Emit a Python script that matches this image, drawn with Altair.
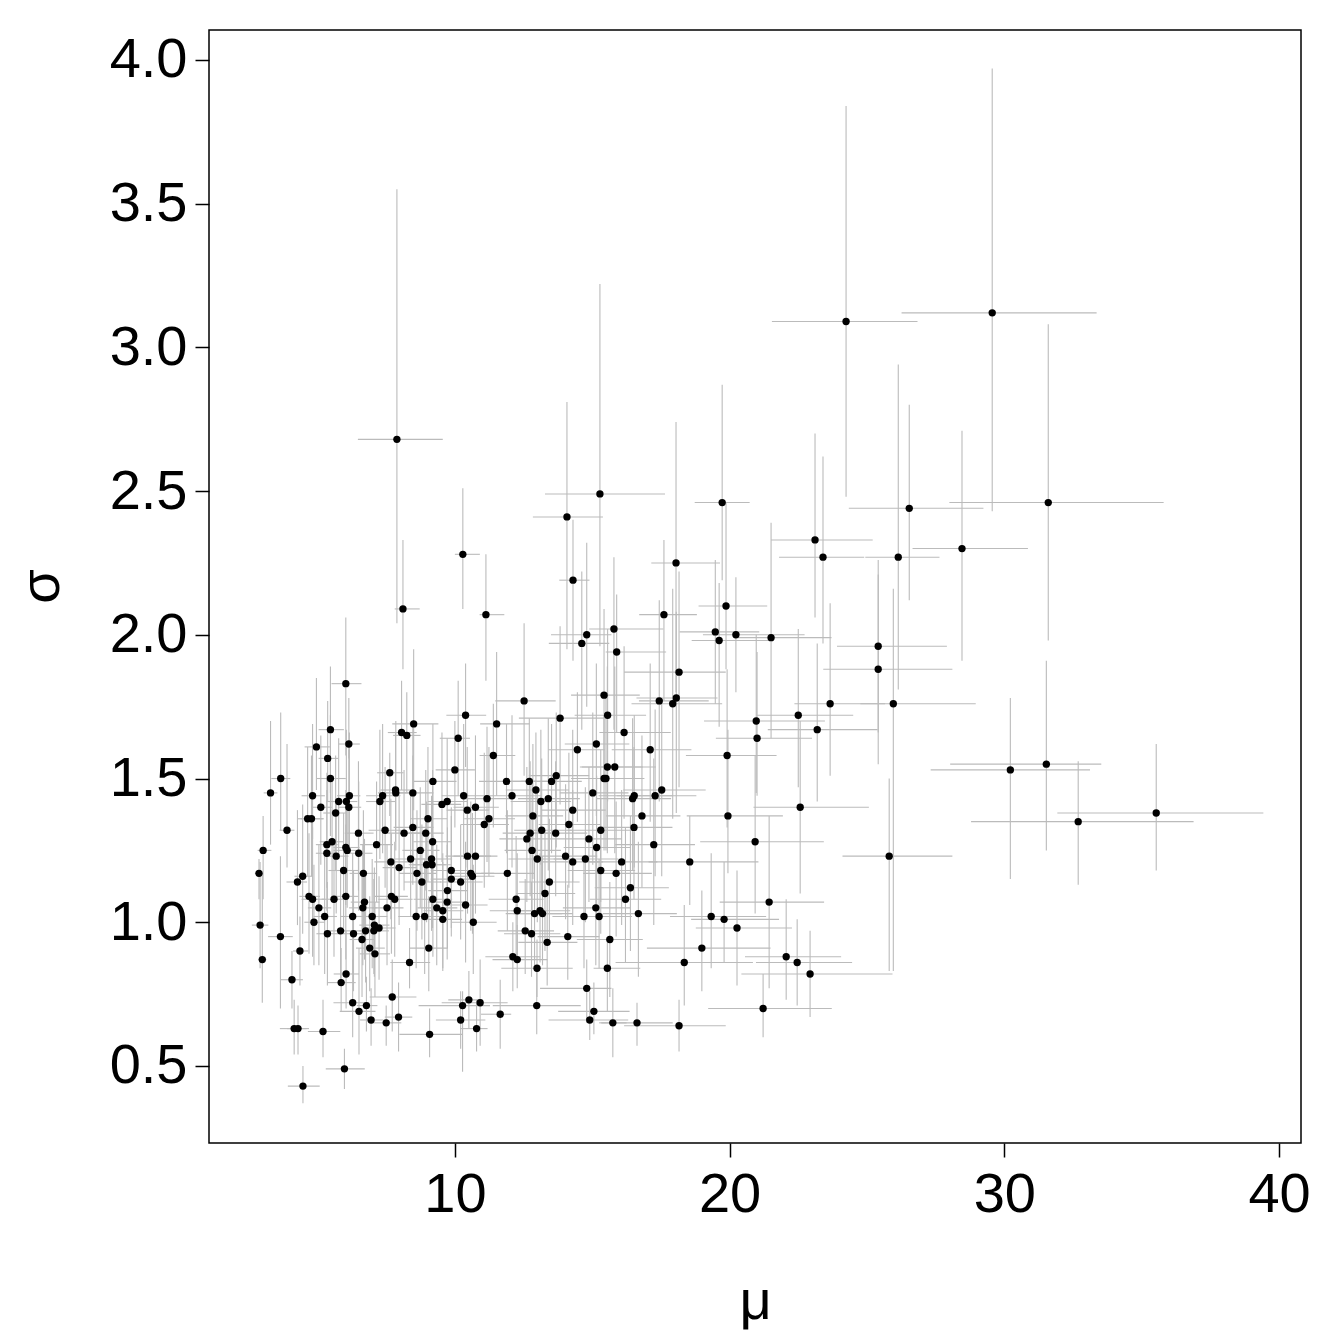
import altair as alt
import pandas as pd

# posterior means
mu = [
    7.89, 8.11, 10.29, 11.13, 14.08, 15.28, 14.30, 14.62, 14.80, 15.79,
    15.89, 17.61, 18.05, 19.73, 19.48, 19.62, 19.87, 20.23, 21.51, 23.11,
    23.40, 24.24, 26.54, 26.14, 28.46, 29.56, 31.60, 25.41, 25.41, 25.96,
    23.66, 23.19, 20.97, 21.00, 19.91, 22.50, 22.57, 19.94, 20.93, 21.44,
    30.22, 31.53, 32.69, 35.53, 25.81, 18.55, 19.33, 19.80, 20.27, 18.99,
    18.35, 22.06, 22.46, 22.93, 21.22, 18.16, 16.63, 15.75, 15.55,
    6.03, 5.47, 6.14, 4.96, 5.37, 3.66, 5.47,
    10.39, 8.50, 8.06, 8.25, 10.12, 10.00, 7.63, 9.20, 7.84,
    12.52, 15.43, 13.83, 11.52, 15.15, 14.46, 11.40, 13.69, 11.88, 12.71, 13.52, 12.95, 15.43,
    18.16, 18.06, 17.44, 17.93, 15.56, 16.16, 17.11, 15.55, 15.82, 15.50, 17.53,
    3.29, 4.82, 6.16, 5.12, 5.77, 6.05, 6.14, 5.66, 4.64, 4.78, 3.89, 6.49,
    3.02, 5.34, 5.53, 6.03, 6.08, 5.34, 5.68, 6.50, 5.95, 6.67, 2.87, 4.46,
    4.27, 4.69, 4.82, 5.60, 6.03, 5.05, 6.65, 5.26, 6.28, 4.87, 2.91, 5.36, 5.84, 6.31, 6.62, 3.65, 4.36, 2.99,
    4.07, 6.04, 5.86, 6.28, 6.51, 4.15, 4.29, 5.20, 5.98, 4.47,
    8.35, 7.72, 6.78, 6.95, 7.50, 7.95, 9.08, 10.51, 10.28, 10.92, 10.21, 10.79,
    12.27, 12.99, 14.80, 12.98, 11.65, 15.06, 14.91, 12.11,
    7.37, 7.27, 7.85, 8.47, 9.53, 9.72, 10.32, 10.45, 10.75, 9.02, 7.46, 8.15, 8.47, 8.94, 11.07,
    7.15, 9.19, 8.74, 7.67, 8.39, 9.15, 8.97, 9.17, 10.46, 10.75, 7.97, 8.62, 9.87, 10.58, 10.64,
    8.80, 9.87, 10.21, 9.73, 7.69, 7.81, 9.20, 9.72, 6.71, 7.53, 9.34, 9.56, 10.39,
    6.99, 8.59, 8.90, 9.56, 10.67, 7.07, 7.24, 7.05, 6.75, 6.90, 7.09, 9.05,
    11.17, 12.08, 13.13, 13.40, 15.02, 11.24, 12.84, 14.29, 14.15, 13.16, 13.67, 12.74, 12.62, 15.31, 14.88, 15.16,
    12.81, 13.00, 14.03, 14.29, 14.75, 15.31, 11.91, 13.44, 13.28, 12.23, 12.27, 13.10, 12.90, 13.19, 15.13, 14.70, 15.25, 12.56, 12.79, 14.11, 13.36,
    16.53, 16.47, 17.29, 16.81, 16.52, 17.24, 16.07, 15.87, 16.39, 16.21, 16.68, 15.64,
]

sigma = [
    2.68, 2.09, 2.28, 2.07, 2.41, 2.49, 2.19, 1.97, 2.00, 2.02,
    1.94, 2.07, 2.25, 2.46, 2.01, 1.98, 2.10, 2.00, 1.99, 2.33,
    2.27, 3.09, 2.44, 2.27, 2.30, 3.12, 2.46, 1.96, 1.88, 1.76,
    1.76, 1.67, 1.70, 1.64, 1.58, 1.72, 1.40, 1.37, 1.28, 1.07,
    1.53, 1.55, 1.35, 1.38, 1.23, 1.21, 1.02, 1.01, 0.98, 0.91,
    0.86, 0.88, 0.86, 0.82, 0.70, 0.64, 0.65, 0.65, 0.84,
    1.83, 1.67, 1.62, 1.61, 1.57, 1.50, 1.50,
    1.72, 1.69, 1.66, 1.65, 1.64, 1.53, 1.52, 1.49, 1.46,
    1.77, 1.79, 1.71, 1.69, 1.62, 1.60, 1.58, 1.51, 1.49, 1.49, 1.49, 1.46, 1.50,
    1.87, 1.78, 1.77, 1.76, 1.72, 1.66, 1.60, 1.54, 1.54, 1.50, 1.46,
    1.45, 1.44, 1.44, 1.40, 1.42, 1.42, 1.40, 1.38, 1.36, 1.36, 1.32, 1.31,
    1.25, 1.27, 1.28, 1.26, 1.25, 1.24, 1.23, 1.24, 1.18, 1.17, 1.17, 1.16,
    1.14, 1.09, 1.08, 1.08, 1.09, 1.05, 1.05, 1.02, 1.02, 1.00, 0.99, 0.96, 0.97, 0.96, 0.94, 0.95, 0.90, 0.87,
    0.80, 0.82, 0.79, 0.72, 0.69, 0.63, 0.63, 0.62, 0.49, 0.43,
    0.86, 0.74, 0.71, 0.66, 0.65, 0.67, 0.61, 0.73, 0.71, 0.72, 0.66, 0.63,
    0.87, 0.84, 0.77, 0.71, 0.68, 0.69, 0.66, 0.88,
    1.44, 1.42, 1.45, 1.45, 1.41, 1.42, 1.44, 1.39, 1.40, 1.36, 1.32, 1.31, 1.33, 1.31, 1.34,
    1.27, 1.28, 1.25, 1.21, 1.22, 1.22, 1.20, 1.20, 1.23, 1.23, 1.19, 1.17, 1.18, 1.17, 1.16,
    1.14, 1.15, 1.14, 1.11, 1.09, 1.08, 1.08, 1.07, 1.07, 1.05, 1.05, 1.04, 1.06,
    1.02, 1.02, 1.02, 1.01, 1.00, 0.99, 0.98, 0.97, 0.97, 0.91, 0.89, 0.91,
    1.43, 1.44, 1.42, 1.43, 1.45, 1.36, 1.37, 1.39, 1.34, 1.32, 1.31, 1.31, 1.29, 1.32, 1.29, 1.26,
    1.25, 1.22, 1.23, 1.21, 1.22, 1.18, 1.17, 1.14, 1.10, 1.08, 1.04, 1.04, 1.03, 1.03, 1.05, 1.02, 1.02, 0.97, 0.96, 0.95, 0.93,
    1.44, 1.43, 1.44, 1.37, 1.33, 1.27, 1.21, 1.17, 1.12, 1.08, 1.03, 0.94,
]

# interval half-lengths (below / above) for mu
mu_err_lo = [
    1.42, 0.30, 0.29, 0.23, 1.24, 2.00, 0.50, 1.20, 1.30, 0.90,
    0.40, 0.90, 0.90, 1.00, 1.30, 1.00, 1.00, 1.20, 1.20, 1.60,
    1.60, 2.70, 2.20, 1.20, 1.80, 3.30, 3.60, 1.50, 2.00, 1.20,
    1.30, 1.80, 1.90, 1.50, 1.50, 1.50, 1.70, 1.50, 2.00, 1.80,
    2.90, 3.50, 3.90, 3.60, 1.70, 1.50, 1.50, 1.20, 1.50, 2.00,
    2.50, 1.50, 1.50, 2.50, 2.00, 2.00, 1.30, 0.50, 0.50,
    0.52, 0.43, 0.37, 0.43, 0.33, 0.34, 0.49,
    0.70, 0.78, 0.50, 0.50, 0.67, 0.70, 0.46, 0.70, 0.55,
    1.05, 1.20, 1.50, 0.60, 1.15, 1.06, 0.50, 1.00, 1.00, 1.00, 1.10, 1.10, 1.20,
    2.00, 1.45, 0.74, 1.50, 1.20, 0.90, 1.40, 1.00, 1.20, 1.20, 1.40,
    0.25, 0.40, 0.45, 0.35, 0.45, 0.50, 0.40, 0.45, 0.35, 0.40, 0.27, 0.50,
    0.20, 0.40, 0.45, 0.45, 0.50, 0.40, 0.45, 0.45, 0.55, 0.50, 0.15, 0.30,
    0.40, 0.35, 0.40, 0.45, 0.45, 0.40, 0.50, 0.40, 0.45, 0.35, 0.30, 0.40, 0.45, 0.45, 0.45, 0.45, 0.25, 0.15,
    0.41, 0.45, 0.50, 0.70, 0.70, 0.52, 0.40, 0.55, 0.68, 0.55,
    0.70, 0.82, 0.35, 0.40, 0.50, 0.50, 1.10, 0.75, 1.60, 1.40, 0.90, 0.60,
    0.90, 1.30, 1.70, 1.60, 0.70, 1.30, 1.50, 1.00,
    0.60, 0.50, 0.65, 0.70, 0.75, 0.70, 0.80, 0.75, 0.80, 0.65, 0.60, 0.65, 0.70, 0.70, 0.85,
    0.60, 0.70, 0.65, 0.60, 0.70, 0.70, 0.65, 0.70, 0.80, 0.80, 0.60, 0.65, 0.75, 0.80, 0.80,
    0.65, 0.75, 0.75, 0.70, 0.60, 0.60, 0.70, 0.70, 0.50, 0.55, 0.70, 0.70, 0.80,
    0.55, 0.65, 0.65, 0.70, 0.80, 0.55, 0.55, 0.55, 0.50, 0.50, 0.55, 0.70,
    0.90, 1.00, 1.10, 1.10, 1.20, 0.90, 1.00, 1.15, 1.10, 1.00, 1.10, 1.00, 1.00, 1.20, 1.20, 1.20,
    1.00, 1.05, 1.10, 1.10, 1.15, 1.20, 0.95, 1.10, 1.05, 1.00, 1.00, 1.05, 1.05, 1.05, 1.20, 1.15, 1.20, 1.00, 1.00, 1.10, 1.05,
    1.30, 1.30, 1.40, 1.30, 1.30, 1.40, 1.20, 1.20, 1.30, 1.30, 1.30, 1.20,
]

mu_err_hi = [
    1.67, 0.61, 0.62, 0.67, 1.31, 2.37, 0.60, 1.00, 0.90, 1.80,
    1.80, 1.20, 1.60, 1.00, 1.60, 1.80, 1.50, 2.50, 2.20, 2.10,
    1.50, 2.60, 2.70, 1.50, 2.40, 3.80, 4.20, 2.50, 2.70, 3.00,
    2.00, 2.20, 2.50, 2.00, 1.80, 2.00, 2.50, 2.00, 2.50, 2.00,
    2.90, 2.00, 4.20, 3.90, 2.30, 2.50, 2.00, 2.00, 2.00, 2.50,
    2.50, 2.00, 2.00, 3.00, 2.50, 1.70, 1.30, 0.50, 1.20,
    0.57, 0.49, 0.40, 0.49, 0.38, 0.35, 0.56,
    0.75, 0.90, 0.55, 0.50, 0.43, 0.73, 0.50, 0.86, 0.55,
    1.15, 1.30, 1.60, 1.20, 1.20, 1.00, 0.80, 1.20, 1.10, 1.00, 1.10, 1.20, 1.30,
    1.70, 1.50, 1.80, 1.80, 1.40, 1.70, 1.50, 1.30, 1.50, 1.40, 1.60,
    0.25, 0.45, 0.40, 0.40, 0.40, 0.40, 0.45, 0.40, 0.55, 0.45, 0.27, 0.55,
    0.30, 0.40, 0.40, 0.50, 0.50, 0.35, 0.45, 0.50, 0.55, 0.50, 0.15, 0.35,
    0.35, 0.40, 0.45, 0.50, 0.45, 0.45, 0.50, 0.45, 0.40, 0.40, 0.30, 0.50, 0.45, 0.50, 0.45, 0.45, 0.30, 0.15,
    0.40, 0.47, 0.53, 0.60, 0.60, 0.45, 0.40, 0.63, 0.74, 0.61,
    0.75, 0.88, 0.40, 0.45, 0.55, 0.50, 1.20, 0.50, 1.00, 1.00, 0.90, 0.40,
    1.10, 1.30, 0.90, 1.60, 0.40, 1.30, 1.40, 1.00,
    0.65, 0.55, 0.70, 0.75, 0.70, 0.75, 0.85, 0.80, 0.85, 0.70, 0.60, 0.70, 0.75, 0.65, 0.90,
    0.60, 0.70, 0.70, 0.65, 0.70, 0.75, 0.70, 0.70, 0.85, 0.80, 0.65, 0.70, 0.80, 0.85, 0.80,
    0.70, 0.75, 0.80, 0.75, 0.60, 0.65, 0.70, 0.75, 0.55, 0.60, 0.75, 0.75, 0.80,
    0.55, 0.65, 0.70, 0.70, 0.85, 0.55, 0.60, 0.55, 0.55, 0.55, 0.55, 0.70,
    0.95, 1.05, 1.10, 1.15, 1.30, 0.95, 1.10, 1.20, 1.15, 1.10, 1.15, 1.05, 1.05, 1.30, 1.20, 1.25,
    1.05, 1.10, 1.15, 1.10, 1.20, 1.25, 1.00, 1.10, 1.10, 1.00, 1.05, 1.10, 1.00, 1.10, 1.25, 1.20, 1.20, 1.05, 1.05, 1.15, 1.10,
    1.40, 1.40, 1.50, 1.40, 1.40, 1.50, 1.30, 1.30, 1.40, 1.30, 1.40, 1.20,
]

# interval half-lengths (below / above) for sigma
sd_err_lo = [
    0.64, 0.21, 0.19, 0.23, 0.46, 0.53, 0.28, 0.30, 0.25, 0.35,
    0.28, 0.30, 0.45, 0.27, 0.25, 0.30, 0.22, 0.20, 0.35, 0.27,
    0.30, 0.61, 0.32, 0.46, 0.39, 0.69, 0.48, 0.30, 0.33, 0.93,
    0.25, 0.25, 0.25, 0.20, 0.25, 0.25, 0.30, 0.20, 0.25, 0.30,
    0.38, 0.30, 0.22, 0.20, 0.40, 0.15, 0.18, 0.15, 0.20, 0.15,
    0.15, 0.15, 0.15, 0.15, 0.10, 0.09, 0.08, 0.12, 0.15,
    0.25, 0.22, 0.05, 0.15, 0.15, 0.18, 0.20,
    0.18, 0.30, 0.20, 0.20, 0.20, 0.20, 0.15, 0.20, 0.18,
    0.26, 0.30, 0.30, 0.25, 0.25, 0.25, 0.25, 0.25, 0.25, 0.25, 0.25, 0.25, 0.25,
    0.40, 0.40, 0.35, 0.40, 0.30, 0.30, 0.25, 0.30, 0.30, 0.25, 0.30,
    0.18, 0.15, 0.20, 0.20, 0.20, 0.18, 0.15, 0.20, 0.20, 0.20, 0.13, 0.20,
    0.17, 0.15, 0.20, 0.20, 0.20, 0.20, 0.20, 0.20, 0.20, 0.20, 0.09, 0.20,
    0.15, 0.20, 0.20, 0.20, 0.22, 0.20, 0.20, 0.20, 0.20, 0.15, 0.15, 0.18, 0.18, 0.20, 0.20, 0.25, 0.12, 0.15,
    0.10, 0.12, 0.10, 0.12, 0.15, 0.09, 0.09, 0.09, 0.07, 0.06,
    0.09, 0.12, 0.09, 0.09, 0.08, 0.12, 0.08, 0.10, 0.23, 0.15, 0.10, 0.08,
    0.10, 0.10, 0.12, 0.10, 0.12, 0.08, 0.07, 0.12,
    0.20, 0.20, 0.20, 0.22, 0.20, 0.20, 0.22, 0.20, 0.22, 0.22, 0.20, 0.20, 0.20, 0.20, 0.22,
    0.20, 0.30, 0.20, 0.20, 0.20, 0.25, 0.20, 0.22, 0.20, 0.20, 0.20, 0.20, 0.20, 0.20, 0.20,
    0.20, 0.20, 0.20, 0.20, 0.20, 0.20, 0.20, 0.20, 0.20, 0.20, 0.20, 0.20, 0.20,
    0.18, 0.18, 0.20, 0.18, 0.18, 0.18, 0.18, 0.15, 0.18, 0.15, 0.15, 0.15,
    0.22, 0.25, 0.22, 0.25, 0.25, 0.20, 0.22, 0.25, 0.22, 0.22, 0.22, 0.22, 0.22, 0.25, 0.22, 0.25,
    0.22, 0.22, 0.22, 0.22, 0.22, 0.22, 0.20, 0.20, 0.20, 0.20, 0.18, 0.18, 0.18, 0.18, 0.20, 0.18, 0.18, 0.15, 0.15, 0.15, 0.15,
    0.25, 0.25, 0.28, 0.25, 0.25, 0.28, 0.22, 0.22, 0.22, 0.22, 0.22, 0.20,
]

sd_err_hi = [
    0.87, 0.24, 0.23, 0.21, 0.40, 0.73, 0.21, 0.25, 0.32, 0.25,
    0.20, 0.26, 0.49, 0.41, 0.25, 0.20, 0.36, 0.20, 0.40, 0.37,
    0.35, 0.75, 0.36, 0.67, 0.41, 0.85, 0.62, 0.30, 0.33, 0.40,
    0.35, 0.30, 0.30, 0.30, 0.30, 0.30, 0.30, 0.30, 0.30, 0.30,
    0.25, 0.36, 0.21, 0.24, 0.27, 0.16, 0.22, 0.20, 0.20, 0.20,
    0.20, 0.20, 0.15, 0.15, 0.12, 0.09, 0.07, 0.12, 0.10,
    0.23, 0.22, 0.16, 0.24, 0.20, 0.23, 0.22,
    0.18, 0.26, 0.18, 0.15, 0.20, 0.17, 0.07, 0.20, 0.20,
    0.27, 0.30, 0.32, 0.25, 0.28, 0.20, 0.18, 0.22, 0.20, 0.22, 0.20, 0.20, 0.22,
    0.35, 0.30, 0.35, 0.40, 0.30, 0.30, 0.30, 0.35, 0.35, 0.30, 0.30,
    0.25, 0.25, 0.22, 0.25, 0.22, 0.25, 0.20, 0.20, 0.25, 0.22, 0.30, 0.25,
    0.12, 0.25, 0.22, 0.20, 0.20, 0.22, 0.20, 0.25, 0.20, 0.22, 0.05, 0.25,
    0.25, 0.22, 0.25, 0.20, 0.25, 0.22, 0.22, 0.22, 0.22, 0.20, 0.22, 0.18, 0.20, 0.22, 0.22, 0.28, 0.12, 0.30,
    0.10, 0.15, 0.12, 0.15, 0.22, 0.10, 0.08, 0.11, 0.07, 0.07,
    0.12, 0.13, 0.10, 0.11, 0.06, 0.12, 0.09, 0.10, 0.05, 0.15, 0.10, 0.10,
    0.12, 0.10, 0.10, 0.12, 0.12, 0.10, 0.10, 0.12,
    0.25, 0.25, 0.25, 0.25, 0.25, 0.22, 0.25, 0.22, 0.25, 0.25, 0.22, 0.22, 0.25, 0.22, 0.25,
    0.22, 0.25, 0.22, 0.22, 0.22, 0.22, 0.22, 0.22, 0.22, 0.22, 0.25, 0.22, 0.22, 0.25, 0.22,
    0.20, 0.22, 0.20, 0.22, 0.22, 0.20, 0.22, 0.20, 0.22, 0.22, 0.22, 0.20, 0.22,
    0.20, 0.20, 0.20, 0.20, 0.20, 0.20, 0.18, 0.18, 0.20, 0.18, 0.18, 0.18,
    0.25, 0.28, 0.25, 0.28, 0.28, 0.25, 0.25, 0.28, 0.25, 0.25, 0.25, 0.25, 0.25, 0.28, 0.25, 0.25,
    0.25, 0.25, 0.25, 0.25, 0.25, 0.25, 0.22, 0.22, 0.22, 0.22, 0.20, 0.20, 0.20, 0.20, 0.22, 0.20, 0.20, 0.18, 0.18, 0.18, 0.18,
    0.28, 0.28, 0.30, 0.28, 0.28, 0.30, 0.25, 0.25, 0.25, 0.25, 0.25, 0.20,
]

x_ticks = [10, 20, 30, 40]
y_ticks = [0.5, 1.0, 1.5, 2.0, 2.5, 3.0, 3.5, 4.0]

n = min(len(mu), len(sigma), len(mu_err_lo), len(mu_err_hi), len(sd_err_lo), len(sd_err_hi))
df = pd.DataFrame({
    "mu": mu[:n], "sigma": sigma[:n],
    "mlo": mu_err_lo[:n], "mhi": mu_err_hi[:n],
    "slo": sd_err_lo[:n], "shi": sd_err_hi[:n],
})
df["mu_lo"] = df["mu"] - df["mlo"]
df["mu_hi"] = df["mu"] + df["mhi"]
df["sd_lo"] = df["sigma"] - df["slo"]
df["sd_hi"] = df["sigma"] + df["shi"]

FONT = "Liberation Sans"
xscale = alt.Scale(domain=[1.05, 40.8], nice=False, zero=False)
yscale = alt.Scale(domain=[0.232, 4.104], nice=False, zero=False)

xaxis = alt.Axis(
    values=x_ticks, format="d", title="μ", grid=False, domain=False,
    tickSize=14, tickWidth=1.5, tickColor="black",
    labelFontSize=56, labelFont=FONT, labelColor="black", labelPadding=10,
    titleFont=FONT, titleFontSize=56, titleFontWeight="normal", titleColor="black",
    titleX=546, titleY=158, titleBaseline="middle",
)
yaxis = alt.Axis(
    values=y_ticks, format=".1f", title="σ", grid=False, domain=False,
    tickSize=14, tickWidth=1.5, tickColor="black",
    labelFontSize=56, labelFont=FONT, labelColor="black", labelPadding=8,
    titleFont=FONT, titleFontSize=56, titleFontWeight="normal", titleColor="black",
    titleX=-168, titleY=556, titleAngle=270, titleBaseline="middle",
)

base = alt.Chart(df)

hbars = base.mark_rule(color="#BBBBBB", strokeWidth=1.1, clip=True).encode(
    x=alt.X("mu_lo:Q", scale=xscale, axis=xaxis),
    x2="mu_hi:Q",
    y=alt.Y("sigma:Q", scale=yscale, axis=yaxis),
)
vbars = base.mark_rule(color="#BBBBBB", strokeWidth=1.1, clip=True).encode(
    x=alt.X("mu:Q", scale=xscale, axis=xaxis),
    y=alt.Y("sd_lo:Q", scale=yscale, axis=yaxis),
    y2="sd_hi:Q",
)
points = base.mark_circle(color="black", size=54, opacity=1).encode(
    x=alt.X("mu:Q", scale=xscale, axis=xaxis),
    y=alt.Y("sigma:Q", scale=yscale, axis=yaxis),
)

chart = alt.layer(hbars, vbars, points).properties(
    width=1092, height=1113,
    autosize=alt.AutoSizeParams(type="none"),
    padding={"left": 201, "top": 22, "right": 14, "bottom": 189},
    background="white",
).configure_view(stroke="black", strokeWidth=1.5)

chart.save("out.html", embed_options={"renderer": "svg", "actions": False})
